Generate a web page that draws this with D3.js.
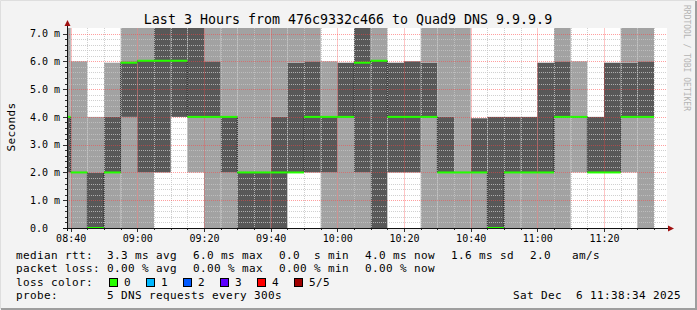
<!DOCTYPE html>
<html>
<head>
<meta charset="utf-8">
<script src="https://cdn.jsdelivr.net/npm/d3@7"></script>
<style>
  body { margin: 0; background: #f3f3f3; }
  text { font-family: "DejaVu Sans Mono", monospace; white-space: pre; }
</style>
</head>
<body>
<svg width="697" height="310"></svg>
<script>
// window shown by the graph (last 3 hours)
var windowStart = "08:38:54",
    windowEnd = "11:38:54";

// rrd steps (5 min), start time of each one; the first is cut by the left edge
var stepTimes = ["08:35", "08:40", "08:45", "08:50", "08:55", "09:00", "09:05", "09:10",
  "09:15", "09:20", "09:25", "09:30", "09:35", "09:40", "09:45", "09:50", "09:55",
  "10:00", "10:05", "10:10", "10:15", "10:20", "10:25", "10:30", "10:35", "10:40",
  "10:45", "10:50", "10:55", "11:00", "11:05", "11:10", "11:15", "11:20", "11:25", "11:30"];

// the 5 sorted pings of every step, in ms (ping3 = median)
var ping1 = [0, 0, 0, 0, 0, 0, 2, 4, 2, 0, 0, 0, 0, 0, 2, 2, 0, 0, 0, 0, 2, 2, 0, 0, 0, 0, 0, 0, 0, 0, 0, 2, 2, 2, 2, 0];
var ping2 = [2, 2, 0, 2, 4, 2, 2, 4, 4, 4, 2, 0, 0, 0, 2, 2, 2, 4, 2, 0, 2, 2, 4, 2, 2, 2, 0, 2, 2, 2, 4, 4, 2, 2, 4, 4];
var ping3 = [4, 2, 0, 2, 5.95, 6.02, 6.02, 6.02, 4, 4, 4, 2, 2, 2, 2, 4, 4, 4, 5.95, 6.02, 4, 4, 4, 2, 2, 2, 0, 2, 2, 2, 4, 4, 2, 2, 4, 4];
var ping4 = [4, 2, 2, 4, 6, 6.02, 8, 8, 8, 6, 4, 2, 2, 4, 5.95, 6, 4, 5.95, 8, 6.02, 5.95, 6, 5.95, 4, 2, 3.95, 4, 4, 4, 5.95, 6, 4, 4, 5.95, 5.95, 6];
var ping5 = [8, 6, 4, 5.95, 8, 8, 8, 8, 8, 8, 8, 8, 8, 8, 8, 8, 6, 5.95, 8, 8, 5.95, 6, 8, 8, 8, 3.95, 4, 4, 4, 5.95, 8, 6, 4, 5.95, 8, 8];

// axes
var yTicks = [0, 1, 2, 3, 4, 5, 6, 7];
var xTicks = ["08:40", "09:00", "09:20", "09:40", "10:00", "10:20", "10:40", "11:00", "11:20"];

// legend texts
var rttStats = ["3.3 ms avg", "6.0 ms max", "0.0  s min", "4.0 ms now", "1.6 ms sd", "2.0   am/s"];
var lossStats = ["0.00 % avg", "0.00 % max", "0.00 % min", "0.00 % now"];
var lossLabels = ["0", "1", "2", "3", "4", "5/5"];
var lossColors = ["#26ff00", "#00b8ff", "#0059ff", "#5e00ff", "#ff0000", "#a00000"];

var svg = d3.select("svg"),
    width = +svg.attr("width"),
    height = +svg.attr("height"),
    plot = { left: 67, right: 667, top: 28, bottom: 228 };

var parseClock = d3.timeParse("%H:%M:%S"),
    parseHM = d3.timeParse("%H:%M");

var x = d3.scaleTime()
  .domain([parseClock(windowStart), parseClock(windowEnd)])
  .range([plot.left, plot.right]);
var y = d3.scaleLinear().domain([0, 7.2]).range([plot.bottom, plot.top]).clamp(true);

// background + frame
svg.append("rect").attr("width", width).attr("height", height).attr("fill", "#f3f3f3");
svg.append("path").attr("d", "M0.5," + (height - 1) + "V0.5H" + (width - 1))
  .attr("stroke", "#dedede").attr("fill", "none");
svg.append("path").attr("d", "M1," + (height - 1) + "H" + (width - 1) + "V1")
  .attr("stroke", "#9e9e9e").attr("stroke-width", 2).attr("fill", "none");

svg.append("rect").attr("x", plot.left).attr("y", plot.top)
  .attr("width", plot.right - plot.left).attr("height", plot.bottom - plot.top)
  .attr("fill", "#ffffff");

// step geometry
var steps = stepTimes.map(function (t, i) {
  var t0 = parseHM(t), t1 = d3.timeMinute.offset(t0, 5);
  return { x0: Math.max(x(t0), plot.left), x1: x(t1),
    p: [ping1[i], ping2[i], ping3[i], ping4[i], ping5[i]] };
});

// smoke bands: outer pairs light, inner pairs dark
var bands = [[0, 1, "#a2a2a2"], [1, 2, "#585858"], [2, 3, "#585858"], [3, 4, "#a2a2a2"]];
var smoke = svg.append("g");
bands.forEach(function (b) {
  smoke.selectAll(null).data(steps).enter().append("rect")
    .attr("x", function (d) { return d.x0; })
    .attr("width", function (d) { return d.x1 - d.x0; })
    .attr("y", function (d) { return y(d.p[b[1]]); })
    .attr("height", function (d) { return y(d.p[b[0]]) - y(d.p[b[1]]); })
    .attr("fill", b[2]);
});

// grid
var grid = svg.append("g").attr("fill", "none");
function hLine(sel, color, op, dash) {
  sel.append("path")
    .attr("d", function (d) { var yy = Math.round(y(d)) + 0.5; return "M" + plot.left + "," + yy + "H" + plot.right; })
    .attr("stroke", color).attr("stroke-opacity", op).attr("stroke-dasharray", dash);
}
function vLine(sel, color, op, dash) {
  sel.append("path")
    .attr("d", function (d) { var xx = Math.round(x(d)) + 0.5; return "M" + xx + "," + plot.top + "V" + plot.bottom; })
    .attr("stroke", color).attr("stroke-opacity", op).attr("stroke-dasharray", dash);
}
var minorY = d3.range(1, 36).map(function (i) { return i * 0.2; })
  .filter(function (v) { return Math.abs(v - Math.round(v)) > 0.01; });
hLine(grid.selectAll(null).data(minorY).enter(), "#c4c4c4", 0.8, "1,1");
var fiveMin = d3.timeMinute.every(5).range(parseHM("08:40"), parseHM("11:40"));
var minorX = fiveMin.filter(function (t) { return t.getMinutes() % 20 !== 0 && x(t) < plot.right; });
vLine(grid.selectAll(null).data(minorX).enter(), "#c4c4c4", 0.8, "1,1");
hLine(grid.selectAll(null).data(yTicks.slice(1)).enter(), "#ff4040", 0.5, "1,1");
vLine(grid.selectAll(null).data(xTicks.map(function (t) { return parseHM(t); })).enter(), "#ff4040", 0.3, null);

// median line (dark risers) + loss coloured bands
var medPts = steps.map(function (d) { return [d.x0, y(d.p[2])]; });
medPts.push([steps[steps.length - 1].x1, y(ping3[ping3.length - 1])]);
svg.append("path").datum(medPts)
  .attr("d", d3.line().curve(d3.curveStepAfter))
  .attr("fill", "none").attr("stroke", "#111").attr("stroke-dasharray", "1,1");
svg.append("g").selectAll("rect").data(steps).enter().append("rect")
  .attr("x", function (d) { return d.x0; })
  .attr("width", function (d) { return d.x1 - d.x0; })
  .attr("y", function (d) { return y(d.p[2]) - 1; })
  .attr("height", 2)
  .attr("fill", lossColors[0]);

// axes
var yAxis = svg.append("g").attr("transform", "translate(" + plot.left + ",0)")
  .call(d3.axisLeft(y).tickValues(yTicks).tickSize(0).tickPadding(7)
    .tickFormat(function (d) { return d === 0 ? "0.0  " : d3.format(".1f")(d) + " m"; }));
yAxis.select(".domain").remove();
yAxis.selectAll("text").attr("font-family", "DejaVu Sans Mono").attr("font-size", 10).attr("fill", "#000");

var xAxis = svg.append("g").attr("transform", "translate(0," + plot.bottom + ")")
  .call(d3.axisBottom(x).tickValues(xTicks.map(function (t) { return parseHM(t); }))
    .tickSize(0).tickPadding(7).tickFormat(d3.timeFormat("%H:%M")));
xAxis.select(".domain").remove();
xAxis.selectAll("text").attr("font-family", "DejaVu Sans Mono").attr("font-size", 10).attr("fill", "#000");

// tick marks
var ticks = svg.append("g").attr("stroke", "#333").attr("shape-rendering", "crispEdges");
ticks.selectAll(null).data(d3.range(0, 36).map(function (i) { return i * 0.2; })).enter().append("line")
  .attr("x1", function (d, i) { return i % 5 === 0 ? plot.left - 4 : plot.left - 2; })
  .attr("x2", plot.left)
  .attr("y1", function (d) { return Math.round(y(d)) + 0.5; })
  .attr("y2", function (d) { return Math.round(y(d)) + 0.5; });
ticks.selectAll(null).data(fiveMin).enter().append("line")
  .attr("y1", plot.bottom)
  .attr("y2", function (d) { return d.getMinutes() % 20 === 0 ? plot.bottom + 4 : plot.bottom + 2; })
  .attr("x1", function (d) { return Math.round(x(d)) + 0.5; })
  .attr("x2", function (d) { return Math.round(x(d)) + 0.5; });

svg.append("line").attr("x1", plot.left - 4).attr("x2", plot.right + 1)
  .attr("y1", plot.bottom + 0.5).attr("y2", plot.bottom + 0.5).attr("stroke", "#111");
svg.append("line").attr("x1", plot.left + 0.5).attr("x2", plot.left + 0.5)
  .attr("y1", plot.bottom + 3).attr("y2", plot.top - 3).attr("stroke", "#111");
svg.append("path")
  .attr("d", "M" + (plot.right + 1) + "," + (plot.bottom - 2.5) + "l6,3l-6,3z")
  .attr("fill", "#a01010");
svg.append("path")
  .attr("d", "M" + (plot.left - 2.5) + "," + (plot.top - 2) + "l3,-6l3,6z")
  .attr("fill", "#a01010");

// title and labels
svg.append("text").attr("x", 348).attr("y", 23.5).attr("text-anchor", "middle")
  .attr("font-size", 13.3).text("Last 3 Hours from 476c9332c466 to Quad9 DNS 9.9.9.9");
svg.append("text").attr("transform", "translate(15,127) rotate(-90)")
  .attr("text-anchor", "middle").attr("font-size", 11).attr("letter-spacing", 0.38)
  .text("Seconds");
svg.append("text").attr("transform", "translate(684,5) rotate(90)")
  .attr("font-size", 8).attr("fill", "#b4b4b4").text("RRDTOOL / TOBI OETIKER");

// legend
var legend = svg.append("g").attr("font-size", 11).attr("letter-spacing", 0.38).attr("fill", "#000");
var statX = [107, 193, 279, 365, 451, 530];
var rowY = [258.5, 272, 285.5, 299];
legend.append("text").attr("x", 16).attr("y", rowY[0]).text("median rtt:");
legend.selectAll(null).data(rttStats).enter().append("text")
  .attr("x", function (d, i) { return statX[i]; }).attr("y", rowY[0]).text(function (d) { return d; });
legend.append("text").attr("x", 16).attr("y", rowY[1]).text("packet loss:");
legend.selectAll(null).data(lossStats).enter().append("text")
  .attr("x", function (d, i) { return statX[i]; }).attr("y", rowY[1]).text(function (d) { return d; });
legend.append("text").attr("x", 16).attr("y", rowY[2]).text("loss color:");
lossLabels.forEach(function (l, i) {
  var bx = 109 + i * 37;
  legend.append("rect").attr("x", bx + 0.5).attr("y", rowY[2] - 7).attr("width", 8).attr("height", 8)
    .attr("fill", lossColors[i]).attr("stroke", "#000");
  legend.append("text").attr("x", bx + 15).attr("y", rowY[2]).text(l);
});
legend.append("text").attr("x", 16).attr("y", rowY[3]).text("probe:");
legend.append("text").attr("x", 107).attr("y", rowY[3]).text("5 DNS requests every 300s");
legend.append("text").attr("x", 681).attr("y", rowY[3]).attr("text-anchor", "end")
  .text("Sat Dec  6 11:38:34 2025");
</script>
</body>
</html>
